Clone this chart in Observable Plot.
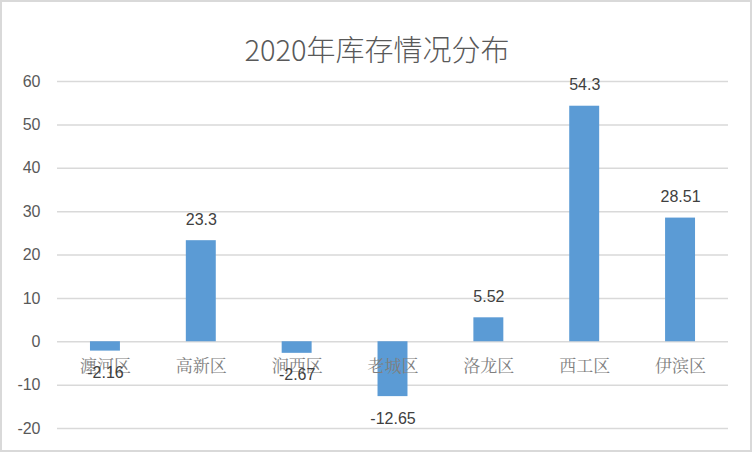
<!DOCTYPE html>
<html><head><meta charset="utf-8">
<script src="https://cdn.jsdelivr.net/npm/d3@7"></script>
<script src="https://cdn.jsdelivr.net/npm/@observablehq/plot@0.6"></script>
<style>
body{margin:0;background:#fff;}
#wrap{position:relative;width:752px;height:452px;}
#border{position:absolute;left:0;top:0;width:752px;height:452px;box-sizing:border-box;border:2px solid #d9d9d9;pointer-events:none;}
</style></head>
<body><div id="wrap"><div id="border"></div></div>
<script>
const title = "2020年库存情况分布";
const categories = ["瀍河区","高新区","涧西区","老城区","洛龙区","西工区","伊滨区"];
const values = [-2.16, 23.3, -2.67, -12.65, 5.52, 54.3, 28.51];
const yTicks = [-20,-10,0,10,20,30,40,50,60];

const data = categories.map((c,i)=>({cat:c, v:values[i]}));
const sans = "'Liberation Sans', 'Noto Sans CJK SC', sans-serif";

const chart = Plot.plot({
  width: 752, height: 452,
  marginLeft: 57, marginRight: 24, marginTop: 81, marginBottom: 24,
  style: {background: "transparent", fontFamily: sans},
  x: {domain: categories, paddingInner: 0.6875, paddingOuter: 0.344, round: false, axis: null},
  y: {domain: [-20, 60], axis: null},
  marks: [
    Plot.gridY(yTicks, {stroke: "#d9d9d9", strokeOpacity: 1, strokeWidth: 1.5}),
    Plot.axisY(yTicks, {tickSize: 0, tickPadding: 17, fontSize: 16, fill: "#595959", tickFormat: d => String(d), fontFamily: sans, label: null}),
    Plot.barY(data, {x: "cat", y: "v", fill: "#5b9bd5"}),
    Plot.text(categories, {x: d => d, y: () => 0, dy: 25, fontSize: 17, fill: "#7f7f7f",
      fontFamily: "'Noto Serif CJK SC', 'Noto Sans CJK SC', serif"}),
    Plot.text(data.filter(d => d.v >= 0), {x: "cat", y: "v", text: d => String(d.v), dy: -21, fontSize: 16, fill: "#404040"}),
    Plot.text(data.filter(d => d.v < 0), {x: "cat", y: "v", text: d => String(d.v), dy: 22, fontSize: 16, fill: "#404040"}),
    Plot.text([title], {frameAnchor: "top", dy: -41, dx: -16, fontSize: 29, fill: "#595959",
      fontFamily: "'Noto Sans CJK SC', sans-serif", fontWeight: 300})
  ]
});
document.getElementById("wrap").prepend(chart);
</script>
</body></html>
